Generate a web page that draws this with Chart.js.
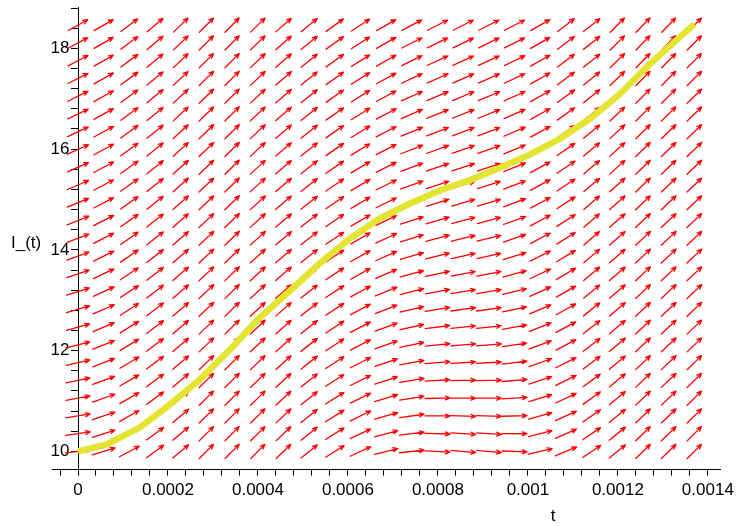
<!DOCTYPE html>
<html>
<head>
<meta charset="utf-8">
<script src="https://cdn.jsdelivr.net/npm/chart.js@4.4.0/dist/chart.umd.min.js"></script>
<style>
  html, body { margin: 0; padding: 0; background: #fff; }
  #wrap { width: 736px; height: 526px; }
</style>
</head>
<body>
<div id="wrap"><canvas id="c"></canvas></div>
<script>
// grid of the direction field (25 x 25)
const fieldT = [0, 0.0000571, 0.0001142, 0.0001713, 0.0002283, 0.0002854, 0.0003425, 0.0003996,
    0.0004567, 0.0005138, 0.0005708, 0.0006279, 0.000685, 0.0007421, 0.0007992, 0.0008563,
    0.0009133, 0.0009704, 0.0010275, 0.0010846, 0.0011417, 0.0011988, 0.0012558, 0.0013129, 0.00137];
const fieldI = [10, 10.3525, 10.705, 11.0575, 11.41, 11.7625, 12.115, 12.4675, 12.82, 13.1725,
    13.525, 13.8775, 14.23, 14.5825, 14.935, 15.2875, 15.64, 15.9925, 16.345, 16.6975,
    17.05, 17.4025, 17.755, 18.1075, 18.46];

// arrow angle on screen (degrees) per column, read on three rows
const angleBottom = [7, 17, 28, 36, 40, 45, 45, 45, 44, 39, 32, 25, 14, 6, -3, -5, -5, -2, 13, 23, 34, 39, 44, 44, 45];
const angleMiddle = [21, 27, 35, 38, 41, 43, 44, 42, 40, 38, 34, 30, 25, 17, 15, 14, 14, 19, 28, 32, 41, 41, 43, 43, 43];
const angleTop = [29, 30, 37, 40, 44, 45, 45, 44, 41, 39, 36, 33, 30, 28, 27, 27, 27, 27, 30, 38, 38, 45, 46, 46, 45];
const middleRow = 12;

// solution curve
const curveT = [0, 0.000064, 0.000138, 0.0002, 0.00027, 0.000338, 0.0004, 0.00047, 0.000538,
    0.000604, 0.00067, 0.000738, 0.000804, 0.00087, 0.000938, 0.001004, 0.00107, 0.001138,
    0.001204, 0.00127, 0.00137];
const curveI = [10, 10.14, 10.48, 10.9, 11.42, 12.02, 12.62, 13.18, 13.74, 14.22, 14.62, 14.92,
    15.18, 15.38, 15.63, 15.89, 16.2, 16.6, 17.09, 17.68, 18.48];

const xMajorTicks = [0, 0.0002, 0.0004, 0.0006, 0.0008, 0.001, 0.0012, 0.0014];
const xTickLabels = ['0', '0.0002', '0.0004', '0.0006', '0.0008', '0.001', '0.0012', '0.0014'];
const yMajorTicks = [10, 12, 14, 16, 18];
const yTickLabels = ['10', '12', '14', '16', '18'];

const xLabel = 't';
const yLabel = 'I_(t)';

function minorTicks(from, to, step) {
    let ticks = [];
    for (let i = 0; from + i * step <= to + step * 1e-6; i++) {
        ticks.push({ value: +(from + i * step).toPrecision(10) });
    }
    return ticks;
}

function tickLabel(value, majors, labels, tol) {
    for (let i = 0; i < majors.length; i++) {
        if (Math.abs(value - majors[i]) < tol) return labels[i];
    }
    return '';
}

function arrowAngle(k, r) {
    if (r <= middleRow) {
        return angleBottom[k] + (angleMiddle[k] - angleBottom[k]) * r / middleRow;
    }
    return angleMiddle[k] + (angleTop[k] - angleMiddle[k]) * (r - middleRow) / (fieldI.length - 1 - middleRow);
}

let fieldPoints = [];
fieldI.forEach((I, r) => {
    fieldT.forEach((t, k) => fieldPoints.push({ x: t, y: I, k: k, r: r }));
});

const directionField = {
    id: 'directionField',
    afterDatasetDraw(chart, args) {
        if (args.index !== 1) return;
        const ctx = chart.ctx;
        const xs = chart.scales.x, ys = chart.scales.y;
        const cellW = xs.getPixelForValue(fieldT[1]) - xs.getPixelForValue(fieldT[0]);
        const cellH = ys.getPixelForValue(fieldI[0]) - ys.getPixelForValue(fieldI[1]);
        const A = cellW * 0.97, B = cellH * 0.97;
        ctx.save();
        ctx.strokeStyle = 'rgb(255,0,0)';
        ctx.lineWidth = 1.3;
        ctx.lineCap = 'round';
        ctx.lineJoin = 'round';
        args.meta.data.forEach((el, i) => {
            const p = fieldPoints[i];
            const theta = arrowAngle(p.k, p.r) * Math.PI / 180;
            const alpha = Math.atan(Math.tan(theta) * A / B);
            const dx = A * Math.cos(alpha), dy = B * Math.sin(alpha);
            const x0 = el.x - dx / 2, y0 = el.y + dy / 2;
            const x1 = el.x + dx / 2, y1 = el.y - dy / 2;
            const ang = Math.atan2(y1 - y0, x1 - x0);
            const h = 5, spread = 0.4;
            ctx.beginPath();
            ctx.moveTo(x0, y0);
            ctx.lineTo(x1, y1);
            ctx.moveTo(x1 - h * Math.cos(ang - spread), y1 - h * Math.sin(ang - spread));
            ctx.lineTo(x1, y1);
            ctx.lineTo(x1 - h * Math.cos(ang + spread), y1 - h * Math.sin(ang + spread));
            ctx.stroke();
        });
        ctx.restore();
    }
};

const axisTitles = {
    id: 'axisTitles',
    afterDraw(chart) {
        const ctx = chart.ctx;
        ctx.save();
        ctx.fillStyle = '#000';
        ctx.font = '17px "Liberation Sans", Arial, sans-serif';
        ctx.textBaseline = 'middle';
        ctx.textAlign = 'left';
        ctx.fillText(yLabel, 11, 243);
        ctx.textAlign = 'center';
        ctx.fillText(xLabel, 553, 516);
        ctx.restore();
    }
};

const tickFont = { family: '"Liberation Sans", Arial, sans-serif', size: 17 };

new Chart(document.getElementById('c'), {
    type: 'scatter',
    data: {
        datasets: [{
            type: 'line',
            label: 'I_(t)',
            data: curveT.map((t, i) => ({ x: t, y: curveI[i] })),
            borderColor: 'rgb(228,228,50)',
            borderWidth: 6.5,
            pointRadius: 0,
            tension: 0,
            fill: false
        }, {
            label: 'field',
            data: fieldPoints,
            pointRadius: 0,
            pointHoverRadius: 0
        }]
    },
    options: {
        responsive: true,
        maintainAspectRatio: false,
        animation: false,
        events: [],
        layout: { padding: { left: 52, right: 16, top: 7, bottom: 20 } },
        scales: {
            x: {
                type: 'linear',
                min: -0.0000578,
                max: 0.001427,
                position: 'bottom',
                afterBuildTicks: (scale) => { scale.ticks = minorTicks(-0.00004, 0.0014, 0.00004); },
                afterFit: (scale) => { scale.paddingLeft = 0; scale.paddingRight = 0; },
                ticks: {
                    autoSkip: false,
                    maxRotation: 0,
                    color: '#000',
                    font: tickFont,
                    padding: 5,
                    callback: (v) => tickLabel(v, xMajorTicks, xTickLabels, 1e-8)
                },
                grid: { drawOnChartArea: false, drawTicks: true, tickLength: 6, color: '#000' },
                border: { display: true, color: '#000', width: 1 }
            },
            y: {
                type: 'linear',
                min: 9.64,
                max: 18.82,
                position: { x: 0 },
                afterBuildTicks: (scale) => { scale.ticks = minorTicks(10, 18.8, 0.4); },
                afterFit: (scale) => { scale.paddingTop = 0; scale.paddingBottom = 0; },
                ticks: {
                    autoSkip: false,
                    color: '#000',
                    font: tickFont,
                    // labels sit left of the tick marks
                    callback: (v) => {
                        const s = tickLabel(v, yMajorTicks, yTickLabels, 1e-4);
                        return s ? s + '\u2002' : '';
                    }
                },
                grid: { drawOnChartArea: false, drawTicks: true, tickLength: 7, color: '#000' },
                border: { display: true, color: '#000', width: 1 }
            }
        },
        plugins: {
            legend: { display: false },
            tooltip: { enabled: false }
        }
    },
    plugins: [directionField, axisTitles]
});
</script>
</body>
</html>
